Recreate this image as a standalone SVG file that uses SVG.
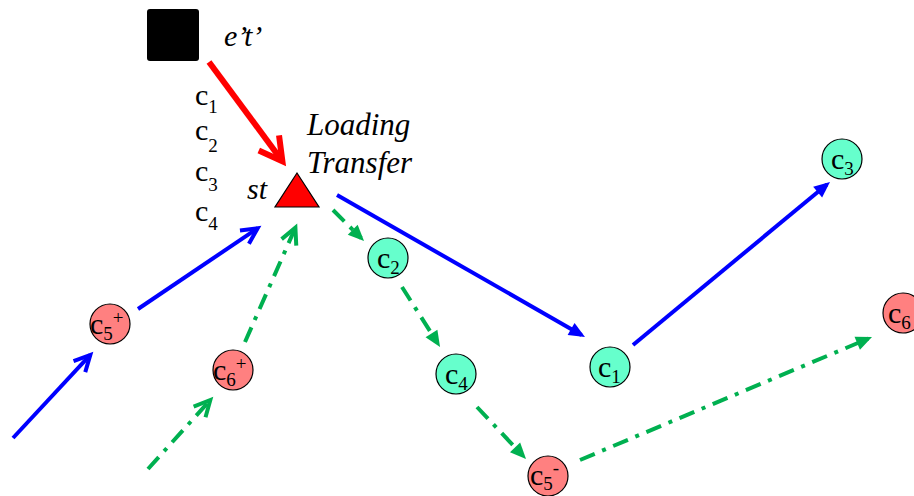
<svg xmlns="http://www.w3.org/2000/svg" width="914" height="496" viewBox="0 0 914 496">
<style>
  .teal { fill: #66FFCC; stroke: #000; stroke-width: 1.2; }
  .pink { fill: #FF8080; stroke: #000; stroke-width: 1.2; }
  .blue { stroke: #0000FF; stroke-width: 4; fill: none; }
  .green { stroke: #00B050; stroke-width: 4; fill: none; stroke-dasharray: 16 8 4 8; }
  .red { stroke: #FF0000; stroke-width: 6; fill: none; }
</style>
<defs>
  <marker id="bOpen" markerUnits="userSpaceOnUse" viewBox="-24 -14 32 28" markerWidth="32" markerHeight="28" refX="0" refY="0" orient="auto">
    <path d="M-16,-8 L0,0 L-16,8" fill="none" stroke="#0000FF" stroke-width="4"/>
  </marker>
  <marker id="gOpen" markerUnits="userSpaceOnUse" viewBox="-24 -14 32 28" markerWidth="32" markerHeight="28" refX="0" refY="0" orient="auto">
    <path d="M-16,-8 L0,0 L-16,8" fill="none" stroke="#00B050" stroke-width="4"/>
  </marker>
  <marker id="bFill" markerUnits="userSpaceOnUse" viewBox="-16 -10 24 20" markerWidth="24" markerHeight="20" refX="0" refY="0" orient="auto">
    <path d="M4,0 L-12,-7 L-12,7 Z" fill="#0000FF"/>
  </marker>
  <marker id="gFill" markerUnits="userSpaceOnUse" viewBox="-16 -10 24 20" markerWidth="24" markerHeight="20" refX="0" refY="0" orient="auto">
    <path d="M4,0 L-12,-7 L-12,7 Z" fill="#00B050"/>
  </marker>
  <marker id="rOpen" markerUnits="userSpaceOnUse" viewBox="-30 -18 42 36" markerWidth="42" markerHeight="36" refX="0" refY="0" orient="auto">
    <path d="M-22.7,-12.6 L0,0 L-22.7,12.6" fill="none" stroke="#FF0000" stroke-width="6"/>
  </marker>
</defs>
<rect width="914" height="496" fill="#fff"/>

<g id="connectors">
  <path class="red" d="M209,62 L282.4,161.2" marker-end="url(#rOpen)"/>
  <path class="blue" d="M13,438 L90.3,354.9" marker-end="url(#bOpen)"/>
  <path class="blue" d="M138,309 L257.7,228.2" marker-end="url(#bOpen)"/>
  <path class="blue" d="M337,195 L581.5,335" marker-end="url(#bFill)"/>
  <path class="blue" d="M633,345 L826.9,184.5" marker-end="url(#bFill)"/>
  <path class="green" d="M148,469 L210.3,400" marker-end="url(#gOpen)"/>
  <path class="green" d="M245,342 L295.4,227.7" marker-end="url(#gOpen)"/>
  <path class="green" d="M333,210 L361.2,238.2" marker-end="url(#gFill)"/>
  <path class="green" d="M402,287 L437.9,343.6" marker-end="url(#gFill)"/>
  <path class="green" d="M477,407 L523.3,456.1" marker-end="url(#gFill)"/>
  <path class="green" d="M580,460 L868.3,338.6" marker-end="url(#gFill)"/>
</g>

<g id="source">
  <rect x="147" y="9" width="52" height="52" rx="3" fill="#000"/>
  <text style="font-family:'Liberation Serif',serif !important;font-style:italic;font-size:30px" x="224" y="46">e&#8217;t&#8217;</text>
</g>

<g id="cargo-list">
  <text style="font-family:'Liberation Serif',serif !important;font-size:30px" x="195" y="105">c<tspan style="font-size:19px" dy="8">1</tspan></text>
  <text style="font-family:'Liberation Serif',serif !important;font-size:30px" x="195" y="140">c<tspan style="font-size:19px" dy="12">2</tspan></text>
  <text style="font-family:'Liberation Serif',serif !important;font-size:30px" x="195" y="181">c<tspan style="font-size:19px" dy="10">3</tspan></text>
  <text style="font-family:'Liberation Serif',serif !important;font-size:30px" x="195" y="221">c<tspan style="font-size:19px" dy="9">4</tspan></text>
</g>

<g id="st">
  <polygon points="297,173 275,207 319,207" fill="#FF0000" stroke="#000" stroke-width="1.2"/>
  <text style="font-family:'Liberation Serif',serif !important;font-style:italic;font-size:30px" x="247" y="199">st</text>
  <text style="font-family:'Liberation Serif',serif !important;font-style:italic;font-size:31px" x="307" y="135">Loading</text>
  <text style="font-family:'Liberation Serif',serif !important;font-style:italic;font-size:31px" x="307" y="173">Transfer</text>
</g>

<g id="n-c5plus">
  <circle class="pink" cx="110" cy="324" r="20"/>
  <text style="font-family:'Liberation Serif',serif !important;font-size:30px" x="90" y="334">c<tspan style="font-size:19px" dy="6">5</tspan><tspan style="font-size:19px" dy="-16">+</tspan></text>
</g>
<g id="n-c6plus">
  <circle class="pink" cx="233" cy="370" r="20"/>
  <text style="font-family:'Liberation Serif',serif !important;font-size:30px" x="213" y="380">c<tspan style="font-size:19px" dy="6">6</tspan><tspan style="font-size:19px" dy="-16">+</tspan></text>
</g>
<g id="n-c2">
  <circle class="teal" cx="388" cy="258" r="20"/>
  <text style="font-family:'Liberation Serif',serif !important;font-size:30px" x="377" y="268">c<tspan style="font-size:19px" dy="6">2</tspan></text>
</g>
<g id="n-c4">
  <circle class="teal" cx="456" cy="374" r="20"/>
  <text style="font-family:'Liberation Serif',serif !important;font-size:30px" x="445" y="384">c<tspan style="font-size:19px" dy="6">4</tspan></text>
</g>
<g id="n-c1">
  <circle class="teal" cx="610" cy="367" r="20"/>
  <text style="font-family:'Liberation Serif',serif !important;font-size:30px" x="598" y="377">c<tspan style="font-size:19px" dy="6">1</tspan></text>
</g>
<g id="n-c5minus">
  <circle class="pink" cx="548" cy="476" r="20"/>
  <text style="font-family:'Liberation Serif',serif !important;font-size:30px" x="530" y="485">c<tspan style="font-size:19px" dy="5">5</tspan><tspan style="font-size:19px" dy="-16">-</tspan></text>
</g>
<g id="n-c3">
  <circle class="teal" cx="842" cy="159" r="20"/>
  <text style="font-family:'Liberation Serif',serif !important;font-size:30px" x="831" y="169">c<tspan style="font-size:19px" dy="6">3</tspan></text>
</g>
<g id="n-c6">
  <circle class="pink" cx="903" cy="313" r="20"/>
  <text style="font-family:'Liberation Serif',serif !important;font-size:30px" x="888" y="323">c<tspan style="font-size:19px" dy="6">6</tspan></text>
</g>
</svg>
